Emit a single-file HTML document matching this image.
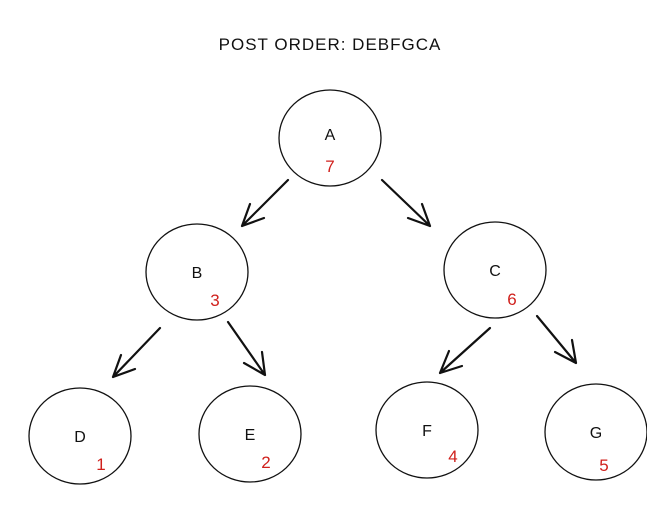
<!DOCTYPE html>
<html><head><meta charset="utf-8"><style>
html,body{margin:0;padding:0;background:#fff;}
svg{display:block;}
text{font-family:"Liberation Sans",sans-serif;}
</style></head><body>
<svg width="647" height="512" viewBox="0 0 647 512" xmlns="http://www.w3.org/2000/svg">
<rect width="647" height="512" fill="#fff"/>
<text x="330" y="50" font-size="17" text-anchor="middle" fill="#111" letter-spacing="1">POST ORDER: DEBFGCA</text>
<g fill="none" stroke="#111" stroke-width="1.3">
<ellipse cx="330" cy="138" rx="51" ry="48"/>
<ellipse cx="197" cy="272" rx="51" ry="48"/>
<ellipse cx="495" cy="270" rx="51" ry="48"/>
<ellipse cx="80" cy="436" rx="51" ry="48"/>
<ellipse cx="250" cy="434" rx="51" ry="48"/>
<ellipse cx="427" cy="430" rx="51" ry="48"/>
<ellipse cx="596" cy="432" rx="51" ry="48"/>
</g>
<g fill="none" stroke="#111" stroke-width="2.2" stroke-linecap="round">
<path d="M288 180 L242 226 M242 226 L264 218 M242 226 L250 204"/>
<path d="M382 180 L430 226 M430 226 L422 204 M430 226 L408 218"/>
<path d="M160 328 L113 377 M113 377 L135 369 M113 377 L121 355"/>
<path d="M228 322 L265 375 M265 375 L262 352 M265 375 L244 363"/>
<path d="M490 328 L440 373 M440 373 L462 366 M440 373 L449 351"/>
<path d="M537 316 L576 363 M576 363 L572 340 M576 363 L555 352"/>
</g>
<g font-size="16" fill="#111" text-anchor="middle">
<text x="330" y="140">A</text>
<text x="197" y="278">B</text>
<text x="495" y="276">C</text>
<text x="80" y="442">D</text>
<text x="250" y="440">E</text>
<text x="427" y="436">F</text>
<text x="596" y="438">G</text>
</g>
<g font-size="17" fill="#d0201c" text-anchor="middle">
<text x="330" y="172">7</text>
<text x="215" y="306">3</text>
<text x="512" y="305">6</text>
<text x="101" y="470">1</text>
<text x="266" y="468">2</text>
<text x="453" y="462">4</text>
<text x="604" y="471">5</text>
</g>
</svg>
</body></html>
